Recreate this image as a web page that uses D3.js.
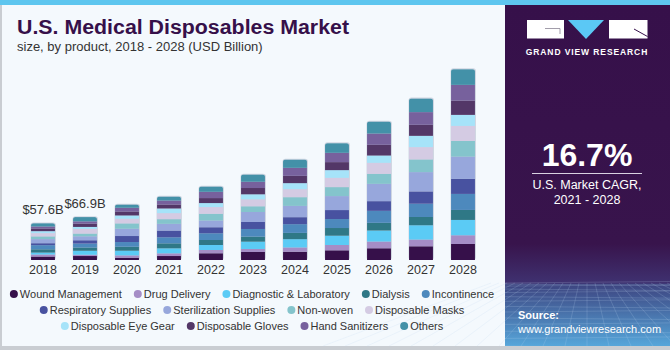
<!DOCTYPE html>
<html>
<head>
<meta charset="utf-8">
<script src="https://cdn.jsdelivr.net/npm/d3@7"></script>
<style>
  html, body { margin: 0; padding: 0; background: #ffffff; }
  svg { display: block; font-family: "Liberation Sans", Arial, sans-serif; }
</style>
</head>
<body>
<div id="chart"></div>
<script>
// years on the x axis
const years = ["2018", "2019", "2020", "2021", "2022", "2023", "2024", "2025", "2026", "2027", "2028"];

// product segments, bottom to top of each stack
const products = ["Wound Management", "Drug Delivery", "Diagnostic & Laboratory", "Dialysis", "Incontinence",
    "Respiratory Supplies", "Sterilization Supplies", "Non-woven", "Disposable Masks",
    "Disposable Eye Gear", "Disposable Gloves", "Hand Sanitizers", "Others"];

const productColors = ["#36104a", "#a58dc6", "#5bcbf5", "#2f7886", "#4d89bd",
    "#4852a0", "#97a7dc", "#84c4cc", "#d4cbe3",
    "#a6e3f9", "#533767", "#77619d", "#4391a8"];

// values in USD billion, one array per product (2018 .. 2028)
const woundManagement   = [5.4, 6.2, 3.6, 6.2, 10.5, 12.5, 12.9, 15.1, 18.3, 21.4, 25.0];
const drugDelivery      = [3.1, 2.0, 3.6, 4.2, 5.1, 4.7, 6.7, 8.3, 10.5, 10.5, 13.6];
const diagnosticLab     = [3.1, 6.2, 7.3, 7.8, 7.8, 11.4, 12.9, 14.5, 17.2, 22.3, 23.9];
const dialysis          = [5.1, 5.1, 6.2, 7.8, 7.8, 7.8, 9.8, 12.0, 12.0, 12.9, 15.6];
const incontinence      = [6.4, 6.2, 7.3, 9.4, 10.5, 12.0, 13.6, 14.0, 18.7, 20.7, 25.0];
const respiratory       = [3.1, 5.1, 9.4, 10.5, 9.4, 10.9, 10.9, 14.0, 15.1, 19.2, 23.4];
const sterilization     = [6.4, 6.2, 11.4, 10.5, 10.5, 15.6, 17.6, 21.8, 27.0, 30.1, 34.8];
const nonWoven          = [4.2, 4.2, 8.3, 7.3, 10.5, 8.9, 13.6, 14.0, 15.6, 19.8, 24.5];
const disposableMasks   = [5.1, 7.3, 7.3, 9.4, 10.5, 10.9, 12.5, 14.5, 17.2, 19.2, 23.4];
const eyeGear           = [3.1, 3.1, 5.1, 7.3, 6.2, 7.8, 9.4, 12.0, 11.4, 17.6, 17.2];
const disposableGloves  = [4.2, 5.1, 6.2, 6.2, 7.8, 9.8, 11.4, 12.5, 16.7, 17.2, 22.3];
const handSanitizers    = [3.1, 3.6, 5.8, 6.2, 9.8, 9.8, 12.5, 14.5, 17.6, 19.8, 24.5];
const others            = [5.1, 6.6, 5.1, 6.2, 8.3, 11.4, 12.9, 15.1, 18.7, 21.4, 24.5];

const seriesValues = [woundManagement, drugDelivery, diagnosticLab, dialysis, incontinence,
    respiratory, sterilization, nonWoven, disposableMasks, eyeGear, disposableGloves,
    handSanitizers, others];

// labels shown above the first two bars
const barLabels = [{year: "2018", text: "$57.6B"}, {year: "2019", text: "$66.9B"}];

// legend rows
const legendRows = [[0, 1, 2, 3, 4], [5, 6, 7, 8], [9, 10, 11, 12]];

const width = 670, height = 350;
const purple = "#36104a";

// build a table for d3.stack
const table = years.map((yr, i) => {
    let row = {year: yr};
    products.forEach((p, j) => { row[p] = seriesValues[j][i]; });
    return row;
});
const stacked = d3.stack().keys(products)(table);

const svg = d3.select("#chart")
    .append("svg")
    .attr("width", width)
    .attr("height", height);

const defs = svg.append("defs");

// background card
svg.append("rect")
    .attr("x", 0).attr("y", 0)
    .attr("width", width).attr("height", height)
    .attr("fill", "#c9cdd2");
svg.append("rect")
    .attr("x", 2).attr("y", 0)
    .attr("width", width - 2).attr("height", height - 4)
    .attr("fill", "#f4f9fd");

// top stripe
svg.append("rect")
    .attr("x", 0).attr("y", 0)
    .attr("width", width).attr("height", 5)
    .attr("fill", "#5ec6ef");

// right panel
const panelX = 505;
const grad = defs.append("linearGradient")
    .attr("id", "panelGrad")
    .attr("x1", 0).attr("y1", 0).attr("x2", 0).attr("y2", 1);
grad.append("stop").attr("offset", "0").attr("stop-color", purple);
grad.append("stop").attr("offset", "0.7").attr("stop-color", "#38144c");
grad.append("stop").attr("offset", "0.815").attr("stop-color", "#3f3170");
grad.append("stop").attr("offset", "0.82").attr("stop-color", "#3d4581");
grad.append("stop").attr("offset", "1").attr("stop-color", "#56a6da");

svg.append("rect")
    .attr("x", panelX).attr("y", 5)
    .attr("width", width - panelX).attr("height", height - 9)
    .attr("fill", "url(#panelGrad)");

// faint grid on the bottom of the panel
const gridG = svg.append("g")
    .attr("stroke", "#b9d4f0")
    .attr("stroke-opacity", 0.28)
    .attr("stroke-width", 0.7)
    .attr("fill", "none");
const horizon = 283, floor = 346;
d3.range(0, 14).forEach(k => {
    let t = k / 13;
    let yy = horizon + (floor - horizon) * Math.pow(t, 1.6);
    gridG.append("line")
        .attr("x1", panelX).attr("x2", width)
        .attr("y1", yy).attr("y2", yy + (k % 2 ? 1.5 : -1.5));
});
d3.range(-12, 13).forEach(k => {
    let xTop = 587 + k * 8;
    let xBot = 587 + k * 22;
    gridG.append("line")
        .attr("x1", xTop).attr("y1", horizon)
        .attr("x2", xBot).attr("y2", floor);
});
svg.append("rect")
    .attr("x", panelX).attr("y", floor)
    .attr("width", width - panelX).attr("height", 4)
    .attr("fill", "#c9cdd2");

// logo
const logo = svg.append("g");
logo.append("rect").attr("x", 527).attr("y", 20).attr("width", 37).attr("height", 18.5).attr("fill", "#ffffff");
logo.append("path").attr("d", "M545,28.5 L560,28.5 L560,34").attr("stroke", "#8a8494").attr("stroke-width", 0.8).attr("fill", "none");
logo.append("path").attr("d", "M568,20 L604,20 L586,39 Z").attr("fill", "#5bc8f5");
logo.append("rect").attr("x", 609).attr("y", 20).attr("width", 38.5).attr("height", 18.5).attr("fill", "#ffffff");
logo.append("path").attr("d", "M634,29 L647.5,36.5").attr("stroke", purple).attr("stroke-width", 1).attr("fill", "none");
logo.append("text")
    .attr("x", 587).attr("y", 55)
    .attr("text-anchor", "middle")
    .attr("fill", "#ffffff")
    .style("font-size", "8.5px")
    .style("font-weight", "bold")
    .style("letter-spacing", "0.9px")
    .text("GRAND VIEW RESEARCH");

// CAGR
svg.append("text")
    .attr("x", 587).attr("y", 166)
    .attr("text-anchor", "middle")
    .attr("fill", "#ffffff")
    .style("font-size", "32px")
    .style("font-weight", "bold")
    .text("16.7%");
svg.append("line")
    .attr("x1", 532).attr("x2", 642)
    .attr("y1", 173.5).attr("y2", 173.5)
    .attr("stroke", "#d9d2e2").attr("stroke-width", 1);
svg.append("text")
    .attr("x", 587).attr("y", 189)
    .attr("text-anchor", "middle")
    .attr("fill", "#ffffff")
    .style("font-size", "12.5px")
    .text("U.S. Market CAGR,");
svg.append("text")
    .attr("x", 587).attr("y", 204)
    .attr("text-anchor", "middle")
    .attr("fill", "#ffffff")
    .style("font-size", "12.5px")
    .text("2021 - 2028");

// source
svg.append("text")
    .attr("x", 518).attr("y", 319)
    .attr("fill", "#ffffff")
    .style("font-size", "11px")
    .style("font-weight", "bold")
    .text("Source:");
svg.append("text")
    .attr("x", 518).attr("y", 333)
    .attr("fill", "#ffffff")
    .style("font-size", "11px")
    .text("www.grandviewresearch.com");

// title
svg.append("text")
    .attr("x", 17).attr("y", 34)
    .attr("fill", purple)
    .style("font-size", "20px")
    .style("font-weight", "bold")
    .attr("textLength", 332)
    .attr("lengthAdjust", "spacingAndGlyphs")
    .text("U.S. Medical Disposables Market");
svg.append("text")
    .attr("x", 17).attr("y", 51)
    .attr("fill", "#333333")
    .style("font-size", "13px")
    .text("size, by product, 2018 - 2028 (USD Billion)");

// scales
const x = d3.scaleBand()
    .domain(years)
    .range([22, 484])
    .paddingInner(0.43)
    .paddingOuter(0.215);

const y = d3.scaleLinear()
    .domain([0, 300])
    .range([260, 67.7]);

// rounded top on every bar via clip paths
years.forEach((yr, i) => {
    let total = d3.sum(seriesValues, s => s[i]);
    defs.append("clipPath")
        .attr("id", "clip-" + yr)
        .append("rect")
        .attr("x", x(yr))
        .attr("y", y(total))
        .attr("width", x.bandwidth())
        .attr("height", y(0) - y(total) + 4)
        .attr("rx", 2.5);
});

// soft shadow behind each bar
svg.append("g")
    .selectAll("rect")
    .data(years)
    .enter()
    .append("rect")
    .attr("x", d => x(d) - 0.5)
    .attr("y", (d, i) => y(d3.sum(seriesValues, s => s[i])) - 0.8)
    .attr("width", x.bandwidth() + 1.5)
    .attr("height", (d, i) => y(0) - y(d3.sum(seriesValues, s => s[i])) + 0.8)
    .attr("rx", 3)
    .attr("fill", "#cfd6e2");

const layers = svg.append("g")
    .selectAll("g")
    .data(stacked)
    .enter()
    .append("g")
    .attr("fill", (d, i) => productColors[i]);

layers.selectAll("rect")
    .data(d => d)
    .enter()
    .append("rect")
    .attr("clip-path", d => "url(#clip-" + d.data.year + ")")
    .attr("x", d => x(d.data.year))
    .attr("y", d => y(d[1]))
    .attr("width", x.bandwidth())
    .attr("height", d => y(d[0]) - y(d[1]));

// x axis labels
svg.append("g")
    .attr("transform", "translate(0,261)")
    .call(d3.axisBottom(x).tickSize(0).tickPadding(4))
    .call(g => g.select(".domain").remove())
    .selectAll("text")
    .attr("fill", "#333333")
    .style("font-size", "12.5px")
    .style("font-family", "\"Liberation Sans\", Arial, sans-serif");

// value labels
barLabels.forEach(b => {
    let i = years.indexOf(b.year);
    let total = d3.sum(seriesValues, s => s[i]);
    svg.append("text")
        .attr("x", x(b.year) + x.bandwidth() / 2)
        .attr("y", y(total) - 9)
        .attr("text-anchor", "middle")
        .attr("fill", "#333333")
        .style("font-size", "13px")
        .text(b.text);
});

// legend, each row centered
const legendCenter = 252;
const legendY = [298, 314, 330];
legendRows.forEach((row, r) => {
    let g = svg.append("g");
    let cursor = 0;
    row.forEach(idx => {
        let item = g.append("g").attr("transform", "translate(" + cursor + ",0)");
        item.append("circle")
            .attr("cx", 4).attr("cy", -4)
            .attr("r", 4)
            .attr("fill", productColors[idx]);
        let t = item.append("text")
            .attr("x", 10).attr("y", 0)
            .attr("fill", "#333333")
            .style("font-size", "11px")
            .text(products[idx]);
        cursor += 10 + t.node().getComputedTextLength() + 12;
    });
    let rowWidth = cursor - 12;
    g.attr("transform", "translate(" + (legendCenter - rowWidth / 2) + "," + legendY[r] + ")");
});
</script>
</body>
</html>
